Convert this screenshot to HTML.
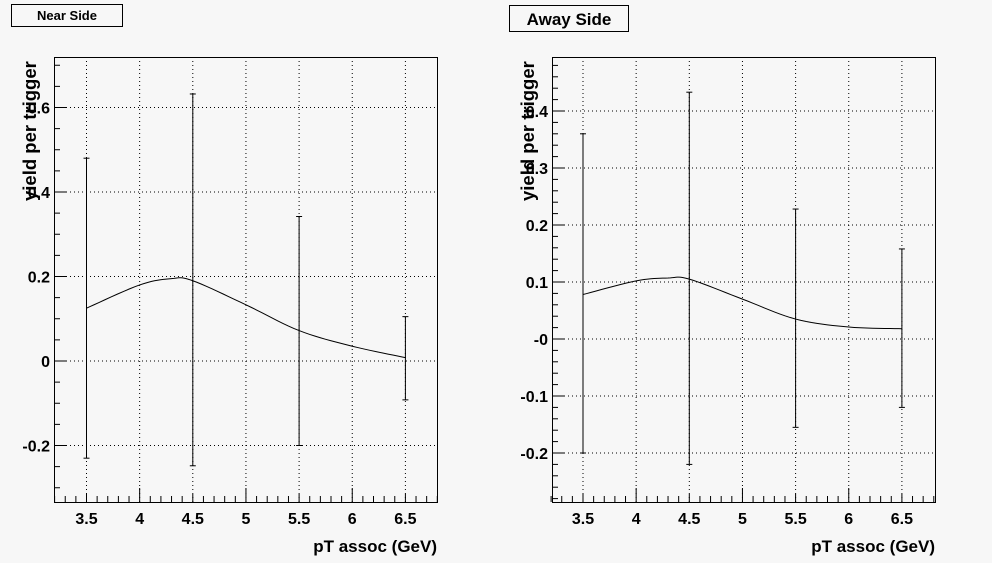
<!DOCTYPE html>
<html><head><meta charset="utf-8"><style>
body{margin:0;background:#f7f7f7;}
svg{display:block;font-family:"Liberation Sans",Arial,sans-serif;font-weight:bold;}
</style></head><body>
<svg id="s" width="992" height="563" viewBox="0 0 992 563" xmlns="http://www.w3.org/2000/svg">
<rect width="992" height="563" fill="#f7f7f7"/>
<rect x="11.5" y="4.5" width="111" height="22" fill="#f7f7f7" stroke="#000"/>
<text x="67" y="20" font-size="13" text-anchor="middle">Near Side</text>
<rect x="509.5" y="5.5" width="119" height="26" fill="#f7f7f7" stroke="#000"/>
<text x="569" y="25" font-size="17" text-anchor="middle">Away Side</text>
</svg>
<script>
const s=document.getElementById('s');const NS='http://www.w3.org/2000/svg';
function el(t,a,txt){const e=document.createElementNS(NS,t);for(const k in a)e.setAttribute(k,a[k]);if(txt!==undefined)e.textContent=txt;s.appendChild(e);return e;}
function panel(P){
 const X=v=>P.x0+(v-3.5)*106.3, Y=v=>P.y0-v*P.sy;
 const L=P.L,R=P.R,T=57,B=502;
 for(const v of [3.5,4,4.5,5,5.5,6,6.5]) el('line',{x1:X(v),x2:X(v),y1:T,y2:B,stroke:'#000','stroke-dasharray':'1,3','stroke-width':1});
 for(const v of P.yt) el('line',{x1:L,x2:R,y1:Y(v),y2:Y(v),stroke:'#000','stroke-dasharray':'1,3','stroke-width':1});
 el('rect',{x:L+.5,y:T+.5,width:R-L,height:B-T,fill:'none',stroke:'#000'});
 for(let v=3.2;v<=6.81;v+=0.1){const r=Math.round(v*10)/10;const maj=Math.abs(r-Math.round(r))<1e-6;const half=Math.abs(r*2-Math.round(r*2))<1e-6;
  const h=maj?14:half?8:6;el('line',{x1:X(r),x2:X(r),y1:B,y2:B-h,stroke:'#000'});}
 for(let v=P.ymin;v<=P.ymax+1e-6;v+=P.ym){const r=Math.round(v*1000)/1000;const y=Y(r);if(y<T||y>B)continue;
  const maj=P.yt.some(t=>Math.abs(t-r)<1e-6);el('line',{x1:L,x2:L+(maj?12:6),y1:y,y2:y,stroke:'#000'});}
 for(const v of [3.5,4,4.5,5,5.5,6,6.5]) el('text',{x:X(v),y:524,'font-size':16,'text-anchor':'middle'},String(v));
 P.yt.forEach((v,i)=>el('text',{x:L-4,y:Y(v)+6,'font-size':16,'text-anchor':'end'},P.yl[i]));
 el('text',{x:R,y:552,'font-size':17,'text-anchor':'end'},'pT assoc (GeV)');
 el('text',{x:0,y:0,'font-size':18.5,transform:`translate(${L-18},201) rotate(-90)`},'yield per trigger');
 el('polyline',{points:P.c.map(p=>X(p[0])+','+Y(p[1])).join(' '),fill:'none',stroke:'#000'});
 for(const e of P.e){const x=X(e[0]);el('line',{x1:x,x2:x,y1:Y(e[1]),y2:Y(e[2]),stroke:'#000'});
  for(const v of [e[1],e[2]]) el('line',{x1:x-3,x2:x+3,y1:Y(v),y2:Y(v),stroke:'#000'});}
}
function smooth(pts){const o=[];for(let i=0;i<pts.length-1;i++){const p0=pts[Math.max(0,i-1)],p1=pts[i],p2=pts[i+1],p3=pts[Math.min(pts.length-1,i+2)];
 for(let t=0;t<1;t+=0.1){const t2=t*t,t3=t2*t;const f=(a,b,c,d)=>0.5*(2*b+(-a+c)*t+(2*a-5*b+4*c-d)*t2+(-a+3*b-3*c+d)*t3);o.push([f(p0[0],p1[0],p2[0],p3[0]),f(p0[1],p1[1],p2[1],p3[1])]);}}
 o.push(pts[pts.length-1]);return o;}
panel({L:54,R:437,x0:86.5,y0:361,sy:422.5,yt:[-0.2,0,0.2,0.4,0.6],yl:['-0.2','0','0.2','0.4','0.6'],ymin:-0.3,ymax:0.72,ym:0.05,
 c:smooth([[3.5,0.125],[4,0.18],[4.3,0.195],[4.5,0.19],[5,0.133],[5.5,0.072],[6,0.035],[6.5,0.008]]),
 e:[[3.5,0.48,-0.23],[4.5,0.632,-0.248],[5.5,0.342,-0.2],[6.5,0.105,-0.092]]});
panel({L:552,R:935,x0:583,y0:339,sy:570,yt:[-0.2,-0.1,0,0.1,0.2,0.3,0.4],yl:['-0.2','-0.1','-0','0.1','0.2','0.3','0.4'],ymin:-0.28,ymax:0.5,ym:0.02,
 c:smooth([[3.5,0.078],[4,0.102],[4.3,0.107],[4.5,0.105],[5,0.07],[5.5,0.035],[6,0.021],[6.5,0.018]]),
 e:[[3.5,0.36,-0.2],[4.5,0.433,-0.22],[5.5,0.228,-0.155],[6.5,0.158,-0.12]]});
</script>
</body></html>
